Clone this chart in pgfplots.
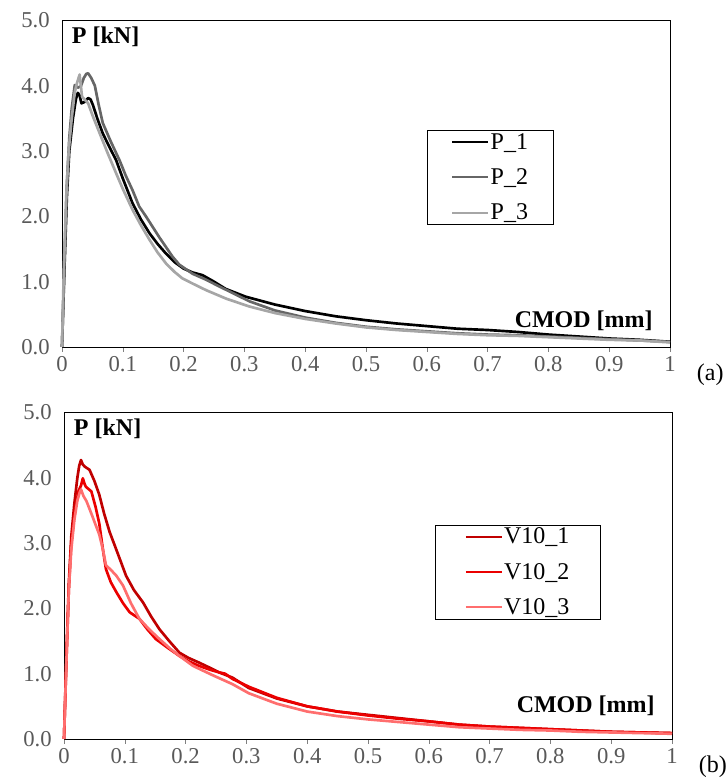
\documentclass[border=0pt]{standalone}
\usepackage{fontspec}
\setmainfont{Liberation Serif}
\usepackage{pgfplots}
\pgfplotsset{compat=1.18}

\definecolor{tickgray}{RGB}{89,89,89}
\definecolor{pone}{RGB}{0,0,0}
\definecolor{ptwo}{RGB}{102,102,102}
\definecolor{pthree}{RGB}{166,166,166}
\definecolor{vone}{RGB}{192,0,0}
\definecolor{vtwo}{RGB}{235,0,0}
\definecolor{vthree}{RGB}{255,110,110}

\pgfplotsset{
  cmod/.style={
    scale only axis, clip=false,
    width=456pt, height=245pt,
    xmin=0, xmax=1, ymin=0, ymax=5,
    xtick={0,0.1,0.2,0.3,0.4,0.5,0.6,0.7,0.8,0.9,1},
    xticklabels={0,0.1,0.2,0.3,0.4,0.5,0.6,0.7,0.8,0.9,1},
    ytick={0,1,2,3,4,5},
    yticklabels={0.0,1.0,2.0,3.0,4.0,5.0},
    tick pos=left, tick align=outside,
    major tick length=3.75pt,
    ytick style={draw=none},
    axis line style={line width=0.7pt},
    ticklabel style={text=tickgray, font=\fontsize{17}{20}\selectfont},
    y tick label style={xshift=-2pt},
    every axis plot/.append style={line width=2pt, line join=round},
    legend cell align=left,
    legend image code/.code={\draw[#1, line width=1.6pt] (0pt,0pt) -- (27pt,0pt);},
    legend style={draw=black, line width=0.7pt, font=\fontsize{18}{21}\selectfont,
      inner xsep=18pt, inner ysep=2pt, row sep=13pt, anchor=north west,
      nodes={inner xsep=1pt, inner ysep=0pt}},
  }
}

\begin{document}
\begin{tikzpicture}
% panel (a)
\begin{axis}[cmod, at={(46.5pt,325.5pt)}, anchor=origin,
  legend style={at={(0.600,0.664)}}]
\addplot[pone] coordinates {
(0,0) (0.004,1.2) (0.008,2.3) (0.012,3.0) (0.018,3.5) (0.023,3.8) (0.026,3.89) (0.029,3.85)
(0.032,3.73) (0.037,3.75) (0.043,3.81) (0.047,3.79) (0.051,3.7) (0.058,3.5) (0.067,3.27)
(0.077,3.08) (0.089,2.86) (0.1,2.58) (0.116,2.2) (0.13,1.95) (0.144,1.74) (0.157,1.58)
(0.171,1.43) (0.185,1.3) (0.2,1.2) (0.215,1.14) (0.231,1.10) (0.25,1.0) (0.269,0.89)
(0.28,0.85) (0.302,0.77) (0.35,0.65) (0.4,0.55) (0.45,0.47) (0.5,0.41) (0.55,0.36)
(0.6,0.32) (0.65,0.28) (0.7,0.26) (0.75,0.23) (0.8,0.19) (0.85,0.16) (0.9,0.13)
(0.95,0.11) (1.0,0.08)
};
\addlegendentry{P\_1}
\addplot[ptwo] coordinates {
(0,0) (0.004,1.3) (0.008,2.5) (0.012,3.2) (0.016,3.65) (0.021,4.01) (0.026,3.97) (0.031,3.99)
(0.036,4.12) (0.04,4.18) (0.043,4.19) (0.048,4.12) (0.054,4.0) (0.06,3.72) (0.067,3.43)
(0.08,3.15) (0.095,2.85) (0.105,2.62) (0.116,2.4) (0.127,2.15) (0.138,2.0) (0.149,1.84)
(0.16,1.68) (0.171,1.53) (0.182,1.38) (0.193,1.26) (0.215,1.12) (0.237,1.03) (0.26,0.92)
(0.28,0.83) (0.308,0.70) (0.35,0.56) (0.4,0.45) (0.45,0.37) (0.5,0.31) (0.55,0.27)
(0.6,0.24) (0.65,0.21) (0.7,0.19) (0.75,0.18) (0.8,0.16) (0.85,0.14) (0.9,0.12)
(0.95,0.1) (1.0,0.08)
};
\addlegendentry{P\_2}
\addplot[pthree] coordinates {
(0,0) (0.003,1.2) (0.007,2.3) (0.011,3.0) (0.016,3.5) (0.021,3.9) (0.025,4.05) (0.029,4.17)
(0.031,4.0) (0.033,3.83) (0.038,3.78) (0.043,3.73) (0.05,3.55) (0.062,3.27) (0.075,2.97)
(0.089,2.66) (0.1,2.42) (0.116,2.1) (0.13,1.86) (0.144,1.64) (0.157,1.45) (0.171,1.28)
(0.185,1.15) (0.198,1.05) (0.215,0.97) (0.237,0.87) (0.27,0.74) (0.308,0.62) (0.35,0.52)
(0.4,0.43) (0.45,0.36) (0.5,0.30) (0.55,0.26) (0.6,0.23) (0.65,0.2) (0.7,0.18)
(0.75,0.17) (0.8,0.15) (0.85,0.13) (0.9,0.11) (0.95,0.1) (1.0,0.07)
};
\addlegendentry{P\_3}
\node[anchor=north west, inner sep=0pt, font=\bfseries\fontsize{18}{21}\selectfont]
  at (rel axis cs:0.016,0.98) {P [kN]};
\node[anchor=base east, inner sep=0pt, font=\bfseries\fontsize{18}{21}\selectfont]
  at (rel axis cs:0.972,0.061) {CMOD [mm]};
\node[anchor=base west, inner sep=0pt, font=\fontsize{18}{21}\selectfont,
  xshift=20pt, yshift=-25.5pt] at (rel axis cs:1,0) {(a)};
\end{axis}

% panel (b)
\begin{axis}[cmod, at={(48pt,31.5pt)}, anchor=origin,
  legend style={at={(0.610,0.656)}, inner xsep=22pt}]
\addplot[vone] coordinates {
(0,0) (0.004,1.3) (0.008,2.4) (0.012,3.1) (0.017,3.6) (0.022,4.0) (0.025,4.18) (0.028,4.27)
(0.031,4.2) (0.034,4.17) (0.042,4.12) (0.05,3.95) (0.058,3.74) (0.066,3.45) (0.075,3.17)
(0.088,2.85) (0.102,2.5) (0.115,2.28) (0.13,2.09) (0.143,1.88) (0.157,1.68) (0.173,1.5)
(0.19,1.32) (0.205,1.24) (0.222,1.17) (0.24,1.09) (0.255,1.02) (0.277,0.94) (0.304,0.78)
(0.35,0.62) (0.4,0.50) (0.45,0.42) (0.5,0.37) (0.55,0.32) (0.6,0.27) (0.65,0.22)
(0.7,0.19) (0.75,0.17) (0.8,0.15) (0.85,0.13) (0.9,0.11) (0.95,0.1) (1.0,0.09)
};
\addlegendentry{V10\_1}
\addplot[vtwo] coordinates {
(0,0) (0.004,1.2) (0.008,2.3) (0.012,3.0) (0.018,3.5) (0.024,3.8) (0.028,3.88) (0.031,3.99)
(0.034,3.9) (0.036,3.86) (0.045,3.79) (0.052,3.55) (0.058,3.3) (0.064,2.9) (0.069,2.6)
(0.077,2.4) (0.086,2.25) (0.097,2.08) (0.108,1.94) (0.124,1.84) (0.137,1.68) (0.151,1.53)
(0.17,1.4) (0.19,1.27) (0.205,1.19) (0.222,1.12) (0.24,1.06) (0.255,1.02) (0.265,1.0)
(0.277,0.92) (0.304,0.8) (0.35,0.63) (0.4,0.5) (0.45,0.42) (0.5,0.36) (0.55,0.31)
(0.6,0.27) (0.65,0.22) (0.7,0.19) (0.75,0.17) (0.8,0.15) (0.85,0.13) (0.9,0.11)
(0.95,0.1) (1.0,0.09)
};
\addlegendentry{V10\_2}
\addplot[vthree] coordinates {
(0,0) (0.004,1.2) (0.008,2.3) (0.012,2.9) (0.017,3.35) (0.022,3.65) (0.026,3.78) (0.028,3.82)
(0.032,3.72) (0.037,3.64) (0.045,3.45) (0.058,3.13) (0.064,2.9) (0.069,2.66) (0.078,2.58)
(0.086,2.5) (0.097,2.35) (0.11,2.08) (0.124,1.84) (0.14,1.68) (0.157,1.53) (0.175,1.38)
(0.19,1.27) (0.212,1.12) (0.23,1.04) (0.246,0.97) (0.277,0.84) (0.304,0.7) (0.35,0.54)
(0.4,0.42) (0.45,0.35) (0.5,0.30) (0.55,0.26) (0.6,0.22) (0.65,0.18) (0.7,0.16)
(0.75,0.14) (0.8,0.13) (0.85,0.11) (0.9,0.1) (0.95,0.09) (1.0,0.08)
};
\addlegendentry{V10\_3}
\node[anchor=north west, inner sep=0pt, font=\bfseries\fontsize{18}{21}\selectfont]
  at (rel axis cs:0.016,0.98) {P [kN]};
\node[anchor=base east, inner sep=0pt, font=\bfseries\fontsize{18}{21}\selectfont]
  at (rel axis cs:0.972,0.08) {CMOD [mm]};
\node[anchor=base west, inner sep=0pt, font=\fontsize{18}{21}\selectfont,
  xshift=20pt, yshift=-25.5pt] at (rel axis cs:1,0) {(b)};
\end{axis}

\pgfresetboundingbox
\path[use as bounding box] (0pt,0pt) rectangle (545.25pt,585.75pt);
\end{tikzpicture}
\end{document}
